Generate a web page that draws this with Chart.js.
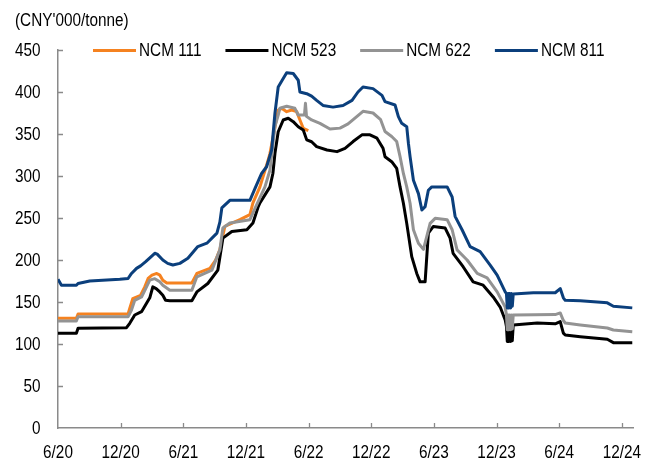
<!DOCTYPE html>
<html>
<head>
<meta charset="utf-8">
<script src="https://cdn.jsdelivr.net/npm/chart.js@4.4.1/dist/chart.umd.min.js"></script>
<style>
  html, body { margin: 0; padding: 0; background: #fff; }
  canvas { display: block; }
</style>
</head>
<body>
<canvas id="priceChart" width="656" height="464"></canvas>
<script>
const unitLabel = "(CNY'000/tonne)";
const seriesNames = ['NCM 111', 'NCM 523', 'NCM 622', 'NCM 811'];
const seriesColors = ['#f58220', '#000000', '#939393', '#0b3f7c'];
const xTickLabels = ['6/20', '12/20', '6/21', '12/21', '6/22', '12/22', '6/23', '12/23', '6/24', '12/24'];
const xTickMonths = [0, 6, 12, 18, 24, 30, 36, 42, 48, 54];
const yTickValues = [0, 50, 100, 150, 200, 250, 300, 350, 400, 450];

// [months since June 2020, price]
const ncm111Points = [[0,130.6],[1.76,130.6],[1.92,135.7],[6.71,135.7],[6.87,142.5],[7.16,154],[7.91,158],[8.31,168],[8.63,178],[9.0,182],[9.46,184],[9.75,182],[10.04,176],[10.42,172.6],[12.82,172.6],[13.3,184],[14.55,190],[15.1,200],[15.5,212],[15.98,240],[17.42,248],[18.38,254],[18.67,268],[19.34,287],[20.13,319],[20.3,327],[21.09,378.6],[21.42,380.6],[21.9,376.6],[22.38,378.6],[22.86,376.6],[23.17,366.7],[23.49,356.8],[23.97,354]];

const ncm523Points = [[0,112.7],[1.76,112.7],[1.92,118.7],[6.56,119.4],[6.87,124.6],[7.35,134.5],[8.0,138.5],[8.48,148.5],[8.79,155],[9.08,168],[9.4,166],[9.75,162],[10.04,158],[10.3,152],[10.71,151.6],[12.82,151.6],[13.3,162],[14.35,172],[15.31,188],[15.79,226],[16.65,234],[18.09,236],[18.67,244],[19.18,263.5],[19.34,268],[20.3,287],[20.58,303],[20.78,327],[21.09,352.7],[21.57,366.7],[22.05,368.7],[22.53,364.7],[23.01,358.7],[23.49,354.8],[23.82,343],[24.29,340.8],[24.77,335],[25.76,331],[26.72,329],[27.49,333],[28.26,341],[29.11,349],[29.88,349],[30.55,345],[31.13,333],[31.32,323],[31.96,317],[32.44,309],[32.76,287],[33.08,267.5],[33.4,243.6],[33.88,204],[34.36,184],[34.68,174],[35.16,174],[35.47,232],[35.95,240],[37.08,238],[37.55,226],[37.84,208],[38.8,192],[39.76,174],[40.72,170],[41.68,156],[42.35,144],[42.83,128.6],[42.95,121],[43.03,103],[43.11,120],[43.19,103],[43.27,120],[43.35,103],[43.43,120],[43.51,104],[43.6,122.6],[45.9,125],[47.62,124],[48.1,126.6],[48.4,113],[48.58,110.7],[50.02,108.7],[52.61,105.6],[53.19,101.6],[55.0,101.6]];

const ncm622Points = [[0,127.4],[1.76,127.4],[1.92,132.5],[6.71,132.5],[7.04,140.5],[7.35,152],[8.0,156],[8.48,168],[8.79,176],[9.27,177.8],[9.75,174],[10.04,170],[10.71,164],[12.82,164],[13.3,180],[14.74,188],[15.5,212],[15.79,238],[16.46,244],[18.38,248],[18.67,256],[19.82,287],[20.3,307],[20.78,359],[21.09,372.6],[21.25,380.6],[21.9,383],[22.69,380.6],[23.01,372.6],[23.6,372.6],[23.7,386.5],[23.8,371],[24.29,366.7],[25.09,362.7],[26.05,356],[27.01,357],[27.78,362],[28.64,371],[29.21,377],[30.17,375],[30.9,367],[31.32,353],[31.96,347],[32.44,341],[32.76,323],[33.08,303],[33.4,287],[33.72,267.5],[34.04,236],[34.52,220],[35.0,212.7],[35.32,228],[35.64,243.6],[36.12,249.6],[37.27,248],[37.75,236],[38.22,212],[39.18,200],[40.15,184],[41.1,178.6],[42.06,162],[42.83,144],[42.95,134.5],[43.03,117],[43.11,134.5],[43.19,117],[43.27,134.5],[43.35,117],[43.43,134.5],[43.51,118],[43.6,134.5],[47.62,135],[48.1,137],[48.4,128],[48.58,125],[50.02,122.6],[52.61,119],[53.19,116.7],[55.0,114.7]];

const ncm811Points = [[0,177],[0.33,170],[1.76,170],[1.92,172],[3.04,175],[5.92,177],[6.71,178],[7.04,184],[7.52,190],[7.91,193],[8.4,198],[9.27,208],[9.5,207],[10.04,200],[10.5,196],[11.0,194],[11.67,196],[12.44,202],[13.39,216],[14.26,220],[15.22,232],[15.5,245],[15.69,262],[16.46,271],[18.38,271],[18.86,285],[19.5,303],[19.98,311],[20.46,331],[20.78,375],[21.09,406],[21.57,416],[21.9,423],[22.53,422],[23.01,414],[23.17,400],[23.82,398],[24.29,395],[24.77,390],[25.38,384],[26.34,382],[27.3,384],[28.16,390],[28.73,400],[29.21,406],[30.17,404],[31.03,396],[31.32,388.5],[32.28,384.5],[32.6,370.6],[32.92,362.7],[33.4,358.7],[33.56,339],[33.72,323],[34.04,295],[34.52,279],[34.85,259.5],[35.16,263.5],[35.47,283],[35.8,287],[37.27,287],[37.75,275],[38.03,252],[38.7,236],[39.47,216],[40.43,210],[41.39,194],[42.06,182],[42.83,162],[42.95,160],[43.03,143],[43.11,160],[43.19,143],[43.27,160],[43.35,143],[43.43,160],[43.51,145],[43.6,159.5],[45.52,161],[47.62,161],[48.1,166],[48.4,155],[48.58,152],[50.02,151.6],[52.61,149],[53.19,145],[55.0,143]];

const allPoints = [ncm111Points, ncm523Points, ncm622Points, ncm811Points];

const fontFamily = "'Liberation Sans', Arial, sans-serif";
const fontSize = 18.7;
const narrow = 0.82; // squeeze to look like Arial Narrow
const axisColor = '#8a8a8a';

function narrowText(ctx, text, x, y, align) {
    ctx.save();
    ctx.translate(x, y);
    ctx.scale(narrow, 1);
    ctx.textAlign = align;
    ctx.fillText(text, 0, 0);
    ctx.restore();
}

// title, legend, tick labels and inward tick marks
const decorPlugin = {
    id: 'decor',
    afterDraw(chart) {
        const ctx = chart.ctx;
        const area = chart.chartArea;
        const xs = chart.scales.x;
        const ys = chart.scales.y;
        ctx.save();

        ctx.strokeStyle = axisColor;
        ctx.lineWidth = 1.3;
        ctx.beginPath();
        xTickMonths.slice(1).forEach(m => {
            const px = Math.round(xs.getPixelForValue(m)) + 0.5;
            ctx.moveTo(px, area.bottom);
            ctx.lineTo(px, area.bottom - 5);
        });
        yTickValues.slice(1).forEach(v => {
            const py = Math.round(ys.getPixelForValue(v)) + 0.5;
            ctx.moveTo(area.left, py);
            ctx.lineTo(area.left + 5, py);
        });
        ctx.stroke();

        ctx.font = fontSize + 'px ' + fontFamily;
        ctx.fillStyle = '#000';
        ctx.textBaseline = 'middle';

        xTickMonths.forEach((m, i) => {
            narrowText(ctx, xTickLabels[i], xs.getPixelForValue(m), 453, 'center');
        });
        yTickValues.forEach(v => {
            narrowText(ctx, String(v), area.left - 17.5, ys.getPixelForValue(v) + 0.5, 'right');
        });

        narrowText(ctx, unitLabel, 15, 21, 'left');

        let lx = 93;
        const ly = 50.5;
        seriesNames.forEach((name, i) => {
            ctx.strokeStyle = seriesColors[i];
            ctx.lineWidth = 3;
            ctx.beginPath();
            ctx.moveTo(lx, ly);
            ctx.lineTo(lx + 43, ly);
            ctx.stroke();
            narrowText(ctx, name, lx + 46, ly, 'left');
            lx += 46 + ctx.measureText(name).width * narrow + 24;
        });
        ctx.restore();
    }
};

new Chart(document.getElementById('priceChart'), {
    type: 'line',
    data: {
        datasets: seriesNames.map((name, i) => ({
            label: name,
            data: allPoints[i].map(p => ({ x: p[0], y: p[1] })),
            borderColor: seriesColors[i],
            borderWidth: 3,
            pointRadius: 0,
            tension: 0,
            fill: false,
            borderJoinStyle: 'round',
            order: 3 - i
        }))
    },
    options: {
        responsive: false,
        animation: false,
        layout: { padding: { top: 50, right: 23, left: 0, bottom: 0 } },
        plugins: {
            legend: { display: false },
            tooltip: { enabled: false }
        },
        scales: {
            x: {
                type: 'linear',
                min: 0,
                max: 55.07,
                afterFit: s => { s.height = 36; },
                afterBuildTicks: s => { s.ticks = xTickMonths.map(v => ({ value: v })); },
                grid: { display: false, drawTicks: false },
                border: { display: true, color: axisColor, width: 1.5 },
                ticks: { display: false }
            },
            y: {
                min: 0,
                max: 450,
                afterFit: s => { s.width = 58; },
                afterBuildTicks: s => { s.ticks = yTickValues.map(v => ({ value: v })); },
                grid: { display: false, drawTicks: false },
                border: { display: true, color: axisColor, width: 1.5 },
                ticks: { display: false }
            }
        }
    },
    plugins: [decorPlugin]
});
</script>
</body>
</html>
